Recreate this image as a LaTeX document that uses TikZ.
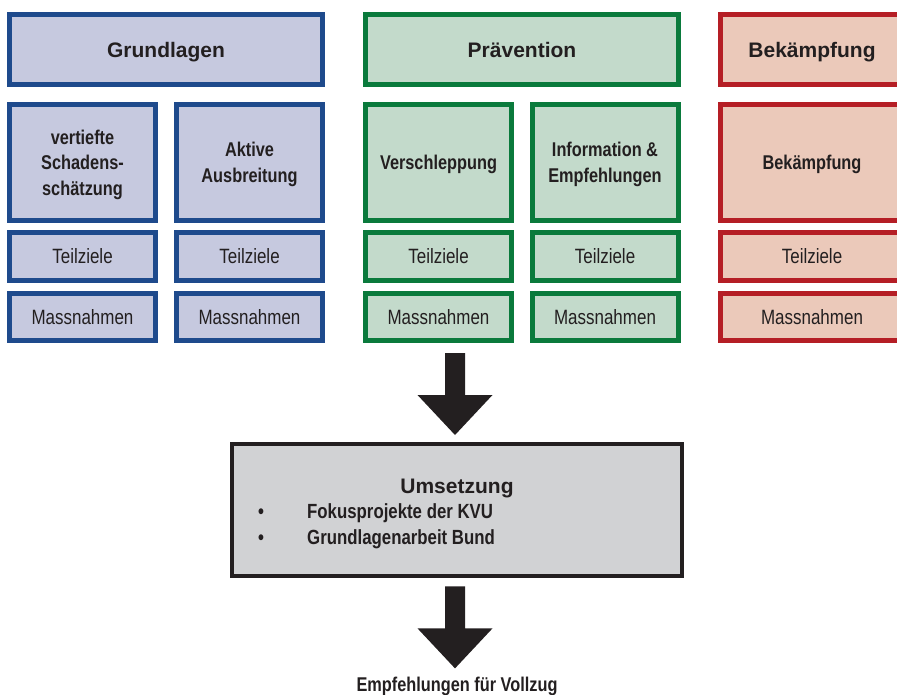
\documentclass[tikz,border=0pt]{standalone}
\usepackage{fontspec}
\setmainfont{Liberation Sans}
\newfontfamily\schmal{Liberation Sans}[FakeStretch=0.82]
\usepackage{tikz}
\usetikzlibrary{calc}
\definecolor{blaurand}{HTML}{1E4A8C}
\definecolor{blaufill}{HTML}{C6C9DF}
\definecolor{gruenrand}{HTML}{0A7A3C}
\definecolor{gruenfill}{HTML}{C3DACB}
\definecolor{rotrand}{HTML}{B51E25}
\definecolor{rotfill}{HTML}{EBC9BA}
\definecolor{graufill}{HTML}{D1D2D4}
\definecolor{dunkel}{HTML}{231F20}

\begin{document}
\begin{tikzpicture}[x=1pt, y=-1pt,
    kasten/.style={draw, line width=5pt, inner sep=0pt, align=center, text=dunkel, text depth=0pt},
    blau/.style={kasten, draw=blaurand, fill=blaufill},
    gruen/.style={kasten, draw=gruenrand, fill=gruenfill},
    rot/.style={kasten, draw=rotrand, fill=rotfill},
    kopf/.style={minimum width=313pt, minimum height=70pt, font=\fontsize{21}{24}\selectfont\bfseries},
    thema/.style={minimum width=146pt, minimum height=116pt, font=\schmal\fontsize{19.9}{25.5}\selectfont\bfseries},
    teilziel/.style={minimum width=146pt, minimum height=48pt, font=\schmal\fontsize{20.7}{24}\selectfont},
    massnahme/.style={minimum width=146pt, minimum height=47pt, font=\schmal\fontsize{20.7}{24}\selectfont},
    breit/.style={minimum width=183pt},
    punkt/.style={anchor=base west, inner sep=0pt, text=dunkel, font=\schmal\fontsize{20.5}{24}\selectfont\bfseries},
    pfeil/.style={fill=dunkel},
  ]
  \useasboundingbox (0,0) rectangle (897,695);
  \clip (0,0) rectangle (897,695);

  % Grundlagen
  \node[blau, kopf] (grund) at (166,49.5) {Grundlagen};
  \node[blau, thema] (schaden) at (82.5,162.5) {vertiefte\\Schadens-\\schätzung};
  \node[blau, thema] (ausbreit) at (249.5,162.5) {Aktive\\Ausbreitung};
  \node[blau, teilziel] (tz1) at (82.5,256.5) {Teilziele};
  \node[blau, teilziel] (tz2) at (249.5,256.5) {Teilziele};
  \node[blau, massnahme] (mn1) at (82.5,317) {Massnahmen};
  \node[blau, massnahme] (mn2) at (249.5,317) {Massnahmen};

  % Praevention
  \node[gruen, kopf] (praev) at (522,49.5) {Prävention};
  \node[gruen, thema] (verschl) at (438.5,162.5) {Verschleppung};
  \node[gruen, thema] (info) at (605,162.5) {Information \&\\Empfehlungen};
  \node[gruen, teilziel] (tz3) at (438.5,256.5) {Teilziele};
  \node[gruen, teilziel] (tz4) at (605,256.5) {Teilziele};
  \node[gruen, massnahme] (mn3) at (438.5,317) {Massnahmen};
  \node[gruen, massnahme] (mn4) at (605,317) {Massnahmen};

  % Bekaempfung (rechts abgeschnitten)
  \node[rot, kopf, breit] (bekkopf) at (812,49.5) {Bekämpfung};
  \node[rot, thema, breit] (bek) at (812,162.5) {Bekämpfung};
  \node[rot, teilziel, breit] (tz5) at (812,256.5) {Teilziele};
  \node[rot, massnahme, breit] (mn5) at (812,317) {Massnahmen};

  % Umsetzung
  \node[draw=dunkel, line width=4pt, fill=graufill, minimum width=450pt, minimum height=132pt, inner sep=0pt] (umsetzung) at (457,510) {};
  \node[anchor=base, inner sep=0pt, text=dunkel, font=\fontsize{21}{24}\selectfont\bfseries] (umtitel) at (457,493) {Umsetzung};
  \node[punkt] (punkt1) at (258,518) {\makebox[49pt][l]{\textbullet}Fokusprojekte der KVU};
  \node[punkt] (punkt2) at (258,544) {\makebox[49pt][l]{\textbullet}Grundlagenarbeit Bund};

  \node[anchor=base, inner sep=0pt, text=dunkel, font=\schmal\fontsize{19.9}{24}\selectfont\bfseries] (vollzug) at (457,691) {Empfehlungen für Vollzug};

  % Blockpfeile
  \coordinate (spitzeA) at ($(umsetzung.north)+(-2,-7)$);
  \fill[pfeil] (spitzeA) -- ++(-37.5,-40) -- ++(27.5,0) -- ++(0,-42) -- ++(20,0) -- ++(0,42) -- ++(27.5,0) -- cycle;
  \coordinate (spitzeB) at ($(vollzug.north)+(-2,-8)$);
  \fill[pfeil] (spitzeB) -- ++(-37.5,-40) -- ++(27.5,0) -- ++(0,-42) -- ++(20,0) -- ++(0,42) -- ++(27.5,0) -- cycle;
\end{tikzpicture}
\end{document}
